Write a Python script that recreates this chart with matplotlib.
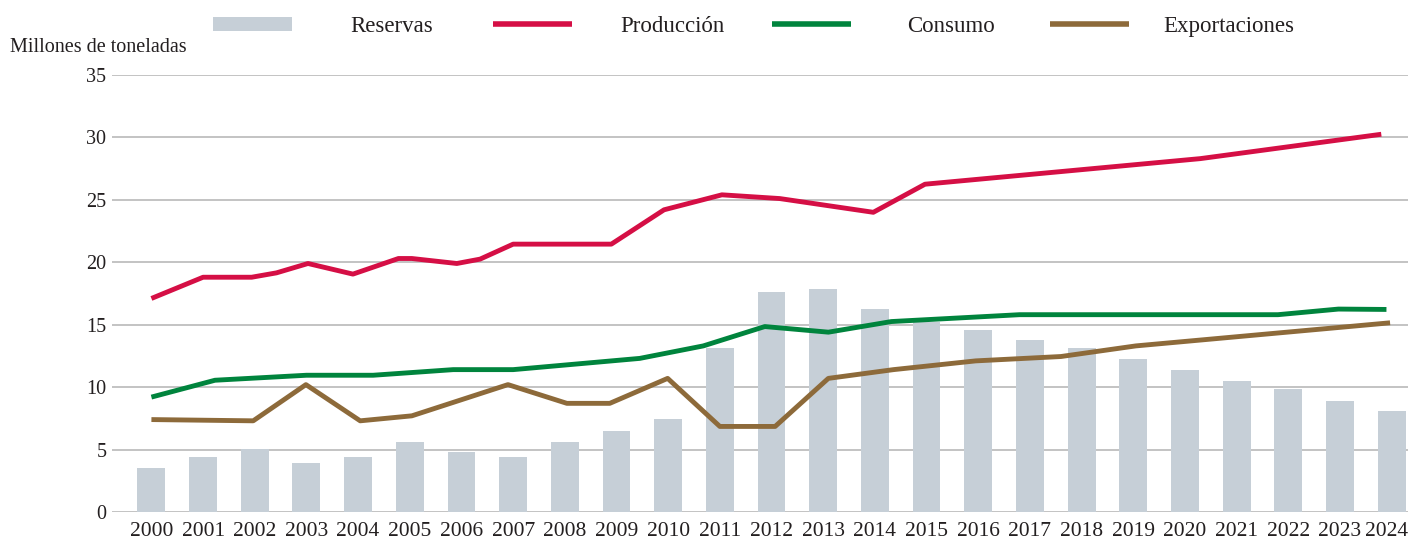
import matplotlib
matplotlib.use("Agg")
import matplotlib.pyplot as plt
import matplotlib.transforms as mtransforms
from matplotlib.lines import Line2D
from matplotlib.patches import Rectangle

plt.rcParams["font.family"] = ["Liberation Serif", "DejaVu Serif"]
TEXT = "#231f20"

# Reservas (bars), one per year
years = list(range(2000, 2025))
reservas = [3.5, 4.4, 5.05, 3.9, 4.4, 5.6, 4.8, 4.4, 5.6, 6.5, 7.45, 13.1,
            17.6, 17.85, 16.25, 15.2, 14.6, 13.8, 13.1, 12.25, 11.35, 10.5,
            9.85, 8.9, 8.1]

# line vertices (x in years)
prod_x = [2000, 2001, 2001.94, 2002.42, 2003.03, 2003.9, 2004.78, 2005.04,
          2005.91, 2006.36, 2007, 2008.9, 2009.92, 2011.04, 2012.16, 2013.97,
          2014.97, 2020.3, 2023.8]
prod_y = [17.1, 18.8, 18.8, 19.15, 19.9, 19.05, 20.3, 20.3,
          19.9, 20.25, 21.45, 21.45, 24.2, 25.4, 25.1, 24.0,
          26.25, 28.3, 30.25]

cons_x = [2000, 2001.23, 2003.0, 2004.29, 2005.84, 2007.0, 2009.45, 2010.68,
          2011.87, 2013.1, 2014.32, 2016.8, 2021.8, 2022.97, 2023.9]
cons_y = [9.2, 10.55, 10.95, 10.95, 11.4, 11.4, 12.3, 13.3,
          14.85, 14.4, 15.25, 15.8, 15.8, 16.25, 16.22]

expo_x = [2000, 2001.97, 2002.99, 2004.04, 2005.04, 2005.97, 2006.9, 2008.04,
          2008.87, 2009.99, 2011.0, 2012.07, 2013.1, 2014.36, 2015.95, 2017.6,
          2019.05, 2023.97]
expo_y = [7.4, 7.3, 10.2, 7.3, 7.7, 8.95, 10.2, 8.7,
          8.7, 10.7, 6.85, 6.85, 10.7, 11.4, 12.1, 12.45,
          13.3, 15.15]

yticks = [0, 5, 10, 15, 20, 25, 30, 35]

labels = ["Reservas", "Producción", "Consumo", "Exportaciones"]
colors = ["#c6cfd7", "#d50f45", "#00843d", "#8d6a3a"]

W, H = 1408, 540
fig = plt.figure(figsize=(W / 100, H / 100), dpi=100)
ax = fig.add_axes([0.0795, 0.0519, 0.9205, 0.8093])

ax.bar(years, reservas, width=0.54, color=colors[0], zorder=2)
for xs, ys, c in [(prod_x, prod_y, colors[1]), (cons_x, cons_y, colors[2]),
                  (expo_x, expo_y, colors[3])]:
    ax.plot(xs, ys, color=c, lw=3.5, solid_capstyle="butt", zorder=3)

ax.set_xlim(1999.236, 2024.317)
ax.set_ylim(0, 35)
ax.set_yticks(yticks)
ax.set_xticks(years)
ax.grid(axis="y", color="#b3b3b3", lw=1.1, zorder=1)
ax.set_axisbelow(True)
for s in ax.spines.values():
    s.set_visible(False)
ax.tick_params(axis="both", length=0, colors=TEXT)
ax.tick_params(axis="y", pad=4, labelsize=14.5)
ax.tick_params(axis="x", pad=7, labelsize=15.5)
# last year label would run off the right edge: nudge it left a little
last = ax.get_xticklabels()[-1]
last.set_transform(last.get_transform()
                   + mtransforms.ScaledTranslation(-5 / 100, 0, fig.dpi_scale_trans))

fig.text(10 / W, 1 - 47 / H, "Millones de toneladas", fontsize=14.5,
         color=TEXT, va="center", ha="left")

# legend drawn by hand: handle, then label centred in the gap to the next one
handle_x = [213, 493, 772, 1050]
hw = 79
for i, (lab, c) in enumerate(zip(labels, colors)):
    x0 = handle_x[i]
    if i == 0:
        fig.add_artist(Rectangle((x0 / W, 1 - 31 / H), hw / W, 14 / H,
                                 transform=fig.transFigure, facecolor=c,
                                 edgecolor="none"))
    else:
        fig.add_artist(Line2D([x0 / W, (x0 + hw) / W], [1 - 24 / H, 1 - 24 / H],
                              transform=fig.transFigure, color=c, lw=4,
                              solid_capstyle="butt"))
    fig.text((x0 + hw + 100) / W, 1 - 32 / H, lab, fontsize=16.5, color=TEXT,
             ha="center", va="baseline")

fig.savefig("out.png", dpi=100)
plt.close()
